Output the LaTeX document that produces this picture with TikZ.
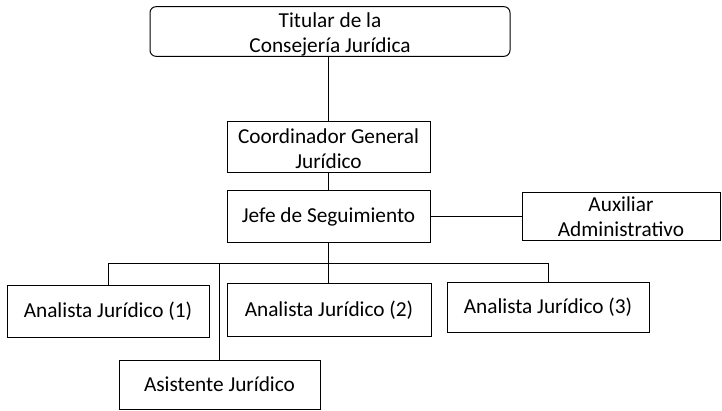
\documentclass[tikz,border=0pt]{standalone}
\usepackage{fontspec}
\setmainfont{Carlito}
\begin{document}
\begin{tikzpicture}[x=1pt,y=-1pt,
  box/.style={draw, line width=1pt, inner sep=0pt, align=center,
    font=\fontsize{21.3}{25}\selectfont},
  conn/.style={line width=1pt}]
\useasboundingbox (0,0) rectangle (722,411);
\node[box, rounded corners=6pt, minimum width=360pt, minimum height=47pt] (tit) at (330,31.5) {\rule{0pt}{21pt}Titular de la\\Consejería Jurídica};
\node[box, minimum width=203pt, minimum height=51pt] (coord) at (328.5,147.5) {\rule{0pt}{17pt}Coordinador General\\Jurídico};
\node[box, minimum width=203pt, minimum height=52pt] (jefe) at (328.5,217) {Jefe de Seguimiento};
\node[box, minimum width=198pt, minimum height=48pt] (aux) at (621,217) {Auxiliar\\Administrativo};
\node[box, minimum width=202pt, minimum height=51pt] (a1) at (108,311.5) {Analista Jurídico (1)};
\node[box, minimum width=204pt, minimum height=52pt] (a2) at (329,310) {Analista Jurídico (2)};
\node[box, minimum width=202pt, minimum height=49pt] (a3) at (548,307.5) {Analista Jurídico (3)};
\node[box, minimum width=201pt, minimum height=49pt] (asis) at (219.5,384.5) {Asistente Jurídico};
\coordinate (busL) at (108,264);
\coordinate (busR) at (548,264);
\draw[conn] (tit.south -| coord.north) -- (coord.north);
\draw[conn] (coord.south) -- (jefe.north);
\draw[conn] (jefe.east) -- (aux.west);
\draw[conn] (jefe.south) -- (jefe.south |- a2.north);
\draw[conn] (a1.north) -- (busL) -- (busR) -- (a3.north);
\draw[conn] (asis.north) -- (asis.north |- busL);
\end{tikzpicture}
\end{document}
